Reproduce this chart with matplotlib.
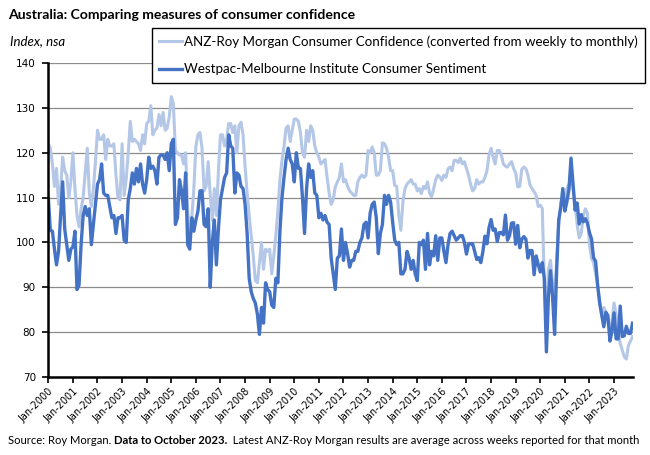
import numpy as np
import matplotlib
matplotlib.use('Agg')
import matplotlib.pyplot as plt

# Monthly values, Jan-2000 to Oct-2023 (one row per year)
westpac = [
    110, 102.7, 102.5, 98.5, 95, 98, 106, 113.5, 103, 99.5, 96, 98.5,            # 2000
    99, 102.5, 89.5, 90.5, 99.5, 106, 108, 106, 107.5, 99.5, 104, 108.5,         # 2001
    113, 114, 117.5, 111, 110.5, 110.5, 108, 105.5, 106, 102, 105.5, 105.5,      # 2002
    106, 100.5, 100, 109.5, 112, 115.5, 113, 116.5, 113.5, 117.5, 113, 111,      # 2003
    114, 119, 116.5, 117, 116, 113, 119, 119.5, 119.5, 118.5, 120, 116,          # 2004
    122, 123, 104, 105.5, 114, 111.5, 107.5, 115.5, 99.5, 98.5, 105.5, 102.5,    # 2005
    105, 107, 111.5, 111.5, 104, 103.5, 107.5, 90, 100, 105, 95, 103,            # 2006
    109.5, 112, 114.5, 115.5, 124, 121.5, 121, 111, 115.5, 115, 112.5, 112,      # 2007
    108.5, 102, 92, 89, 87.5, 86.5, 84, 79.5, 85.5, 82, 91, 89.5,                # 2008
    89, 86, 85.5, 92, 91, 102.5, 110, 114.5, 118.5, 121, 118.5, 117.5,           # 2009
    113.5, 120, 116.5, 116.5, 110, 102, 112, 117.5, 114.5, 116, 111, 110.5,      # 2010
    105.5, 106.5, 105, 106, 104.5, 104, 96.5, 93, 89.5, 96.5, 97, 103,           # 2011
    96, 100, 97.5, 94.5, 96, 96, 98, 98, 100, 101, 104, 104.5,                   # 2012
    101, 106.5, 108.5, 109, 105.5, 97.5, 102, 104, 110.5, 108.5, 110.5, 109,     # 2013
    104.5, 100.5, 99.5, 100, 93, 93, 94, 98, 96.5, 94, 96, 93,                   # 2014
    91.5, 100, 99.5, 100.5, 94, 102, 95, 98, 97, 101.5, 96, 101,                 # 2015
    101, 98, 95.5, 99.5, 102, 102.5, 101.5, 100.5, 101, 101.5, 101.5, 100,       # 2016
    97.4, 99.6, 99.7, 99.7, 98.0, 96.2, 96.6, 95.5, 97.9, 101.4, 99.7, 103.3,    # 2017
    105.1, 102.7, 103.0, 100.2, 102.2, 102.2, 101.7, 106.1, 100.5, 101.5, 104.3, 104.4,  # 2018
    99.6, 103.8, 98.8, 100.7, 101.3, 100.7, 96.5, 98.2, 98.2, 92.8, 97.0, 95.1,  # 2019
    93.4, 95.5, 91.9, 75.6, 88.1, 93.7, 87.9, 79.5, 93.8, 105.0, 107.7, 112.0,   # 2020
    107.0, 109.1, 111.8, 118.8, 113.1, 107.2, 108.8, 104.1, 106.2, 104.6, 105.3, 104.3,  # 2021
    102.2, 100.8, 96.6, 95.8, 90.4, 86.4, 83.8, 81.2, 84.4, 83.7, 78.0, 80.3,    # 2022
    84.3, 78.5, 78.5, 85.8, 79.0, 79.2, 81.3, 79.7, 79.7, 82.0,                  # 2023
]

anz = [
    122, 121, 117.5, 112.5, 116.5, 108.5, 112, 119, 116, 115, 110, 113.5,       # 2000
    120, 112, 106, 103.5, 107.5, 110, 115.5, 121, 111, 108, 112, 118,            # 2001
    125, 123, 123, 124, 118.5, 123, 121.5, 121.5, 122, 115, 110, 109.5,          # 2002
    122, 110.5, 114, 120, 127, 122.5, 123, 122.5, 122, 120.5, 124, 122,          # 2003
    126.5, 127, 130.5, 124, 125, 125.5, 128.5, 126, 129, 125, 125.5, 128,        # 2004
    132.5, 131, 120.5, 120, 119.5, 119.5, 117.5, 120, 107, 101.5, 105.5, 112,    # 2005
    121.5, 124, 124.5, 121, 111.5, 112.5, 118, 110.5, 105, 112, 106, 116,        # 2006
    124, 124, 121.5, 123, 126.5, 126.5, 124.5, 126, 120, 126, 126.8, 124,        # 2007
    117, 111, 106, 101.5, 97, 91.5, 91, 95.5, 100, 94, 98.5, 98,                 # 2008
    98.5, 93, 97, 101.5, 107, 114, 118.3, 121.5, 125.5, 126, 122.5, 125,         # 2009
    127.5, 127.5, 127, 124.5, 120, 119, 125, 122.5, 126, 125, 121.5, 120,        # 2010
    119, 117.5, 118, 118.5, 114.5, 111, 108.5, 109.5, 112.4, 113.5, 114.5, 117.5,  # 2011
    113.5, 114, 112.5, 111.5, 111, 110.5, 110.5, 113.5, 114.5, 115, 114.5, 115,  # 2012
    120.5, 120, 121.3, 120, 115, 115, 116, 122.2, 122, 121, 119, 116,            # 2013
    116, 112.7, 112.5, 106, 102.7, 109, 112, 113, 113.5, 114, 113, 113,          # 2014
    111.5, 112, 110.9, 112.5, 112, 113.5, 111, 110.2, 112, 114, 115, 114.6,      # 2015
    113.8, 115, 114.5, 116.4, 116.8, 116, 118.3, 118.3, 117.8, 118.8, 117.5, 118,  # 2016
    116.5, 115, 113, 111.5, 112, 114, 113, 113.5, 113.5, 114.5, 116, 119.5,      # 2017
    121, 119, 117.5, 120.5, 120.5, 119.5, 117.5, 117, 116.8, 117.5, 118, 116.5,  # 2018
    115.5, 112.4, 112.5, 116.3, 116.8, 116.4, 115, 112.8, 112, 111.3, 110.5, 108,  # 2019
    108.3, 107.6, 90, 82, 94, 96, 91, 87, 96, 104, 109, 110,                     # 2020
    110, 112, 113, 113.5, 112, 108.5, 104, 101, 102, 106, 107.5, 106.5,          # 2021
    99.5, 96.5, 95.5, 93, 90.5, 87, 83.5, 85.5, 84.5, 82, 80.5, 82.5,            # 2022
    86.5, 84, 80, 77.5, 76, 74.5, 74, 77, 78, 79,                                # 2023
]

years = list(range(2000, 2024))
tick_labels = ['Jan-%d' % y for y in years]

anz_label = 'ANZ-Roy Morgan Consumer Confidence (converted from weekly to monthly)'
westpac_label = 'Westpac-Melbourne Institute Consumer Sentiment'

LIGHT = '#B4C7E7'
DARK = '#4472C4'
W, H = 650, 455


def draw_parts(fig, x, y, parts, **kw):
    # put text pieces one after the other on the same line
    renderer = fig.canvas.get_renderer()
    for text, weight in parts:
        t = fig.text(x, y, text, fontweight=weight, va='center', ha='left', **kw)
        bb = t.get_window_extent(renderer)
        x += bb.width / W


fig = plt.figure(figsize=(W / 100, H / 100), dpi=100)
ax = fig.add_axes([48.3 / W, 1 - 377 / H, (632.5 - 48.3) / W, (377 - 63) / H])

months = np.arange(len(westpac))
ax.plot(months, anz, color=LIGHT, lw=2.2, label=anz_label, solid_joinstyle='round')
ax.plot(months, westpac, color=DARK, lw=2.4, label=westpac_label, solid_joinstyle='round')

ax.set_xlim(0, len(westpac) - 1)
ax.set_ylim(70, 140)
ax.set_yticks(range(70, 141, 10))
ax.set_xticks(np.arange(0, len(westpac), 12))
ax.set_xticklabels(tick_labels, rotation=45, ha='right', rotation_mode='anchor',
                   fontsize=7, family='DejaVu Sans')
ax.tick_params(axis='y', labelsize=7.5, length=4, width=1.2, pad=5)
ax.tick_params(axis='x', length=4, width=1.2, pad=3)
for lab in ax.get_yticklabels():
    lab.set_family('DejaVu Sans')

ax.yaxis.grid(True, color='#8c8c8c', lw=0.9)
ax.set_axisbelow(True)
for side in ['top', 'right']:
    ax.spines[side].set_visible(False)
for side in ['left', 'bottom']:
    ax.spines[side].set_linewidth(1.8)
    ax.spines[side].set_color('black')

leg = fig.legend(loc='upper right', bbox_to_anchor=(645 / W, 1 - 28 / H),
                 frameon=True, fancybox=False, framealpha=1, edgecolor='black',
                 prop={'family': 'Lato', 'size': 9.6}, handlelength=1.7,
                 handletextpad=0.15, labelspacing=1.15, borderpad=0.55, borderaxespad=0)
leg.get_frame().set_linewidth(1.0)

fig.text(8 / W, 1 - 15 / H, 'Australia: Comparing measures of consumer confidence',
         fontsize=10.1, fontweight='bold', family='Lato', va='center', ha='left')
fig.text(10 / W, 1 - 41 / H, 'Index, nsa', fontsize=9.5, style='italic', family='Lato',
         va='center', ha='left')

draw_parts(fig, 8 / W, 1 - 441 / H,
           [('Source: Roy Morgan. ', 'normal'),
            ('Data to October 2023.', 'bold'),
            ('  Latest ANZ-Roy Morgan results are average across weeks reported for that month', 'normal')],
           fontsize=8.1, family='Lato')

fig.savefig('out.png', dpi=100)
